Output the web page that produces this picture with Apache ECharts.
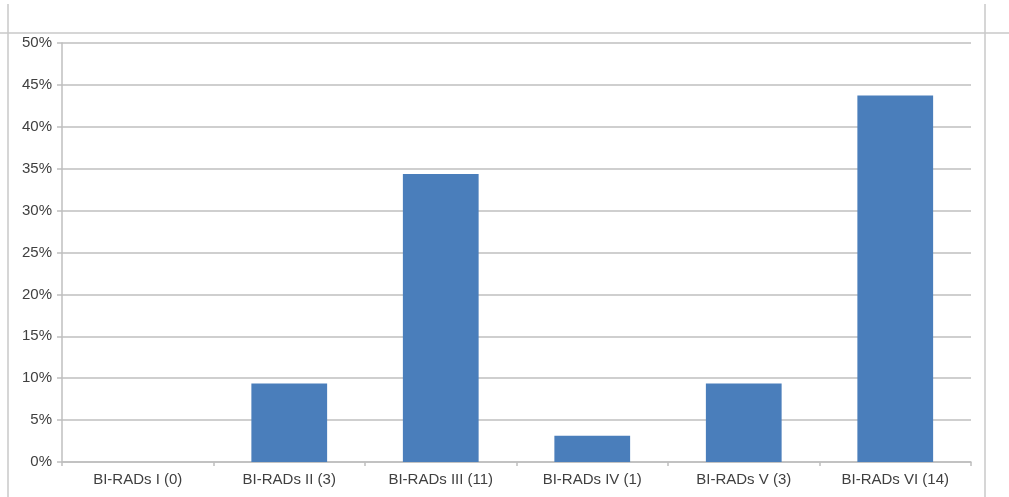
<!DOCTYPE html>
<html>
<head>
<meta charset="utf-8">
<title>BI-RADS distribution</title>
<script src="https://cdn.jsdelivr.net/npm/echarts@6/dist/echarts.min.js"></script>
<style>
  html, body { margin: 0; padding: 0; background: #ffffff; }
  #chart { width: 1009px; height: 497px; }
</style>
</head>
<body>
<div id="chart"></div>
<script>
// Category labels (count of cases in parentheses)
const categories = ['BI-RADs I (0)', 'BI-RADs II (3)', 'BI-RADs III (11)', 'BI-RADs IV (1)', 'BI-RADs V (3)', 'BI-RADs VI (14)'];
// Share of cases per category, in percent (n = 32)
const percentValues = [0, 9.375, 34.375, 3.125, 9.375, 43.75];
// Value axis range and step, in percent
const yMin = 0;
const yMax = 50;
const yStep = 5;

const chart = echarts.init(document.getElementById('chart'), null, { renderer: 'canvas' });

const textColor = '#404040';
const gridColor = '#bfbfbf';
const fontFamily = '"Liberation Sans", Arial, sans-serif';

chart.setOption({
  animation: false,
  backgroundColor: '#ffffff',
  grid: { left: 62, right: 38, top: 43, bottom: 35, containLabel: false },
  xAxis: {
    type: 'category',
    data: categories,
    axisLine: { show: true, lineStyle: { color: gridColor, width: 1.5 } },
    axisTick: { show: true, alignWithLabel: false, length: 4, lineStyle: { color: gridColor, width: 1.5 } },
    axisLabel: { color: textColor, fontSize: 15, fontFamily: fontFamily, margin: 10 },
    splitLine: { show: false }
  },
  yAxis: {
    type: 'value',
    min: yMin,
    max: yMax,
    interval: yStep,
    axisLine: { show: true, lineStyle: { color: gridColor, width: 1.5 } },
    axisTick: { show: true, length: 5, lineStyle: { color: gridColor, width: 1.5 } },
    axisLabel: { color: textColor, fontSize: 15, fontFamily: fontFamily, margin: 10, formatter: '{value}%' },
    splitLine: { show: true, lineStyle: { color: gridColor, width: 1.5 } }
  },
  series: [{
    type: 'bar',
    data: percentValues,
    barWidth: '50%',
    itemStyle: { color: '#4a7ebb' }
  }],
  // Sheet cell borders around the chart frame
  graphic: [
    { type: 'line', shape: { x1: 8, y1: 4, x2: 8, y2: 497 }, style: { stroke: '#c8c8c8', lineWidth: 1.5 }, silent: true },
    { type: 'line', shape: { x1: 0, y1: 33, x2: 1009, y2: 33 }, style: { stroke: '#c8c8c8', lineWidth: 1.5 }, silent: true },
    { type: 'line', shape: { x1: 985, y1: 4, x2: 985, y2: 497 }, style: { stroke: '#c8c8c8', lineWidth: 1.5 }, silent: true }
  ]
});
</script>
</body>
</html>
